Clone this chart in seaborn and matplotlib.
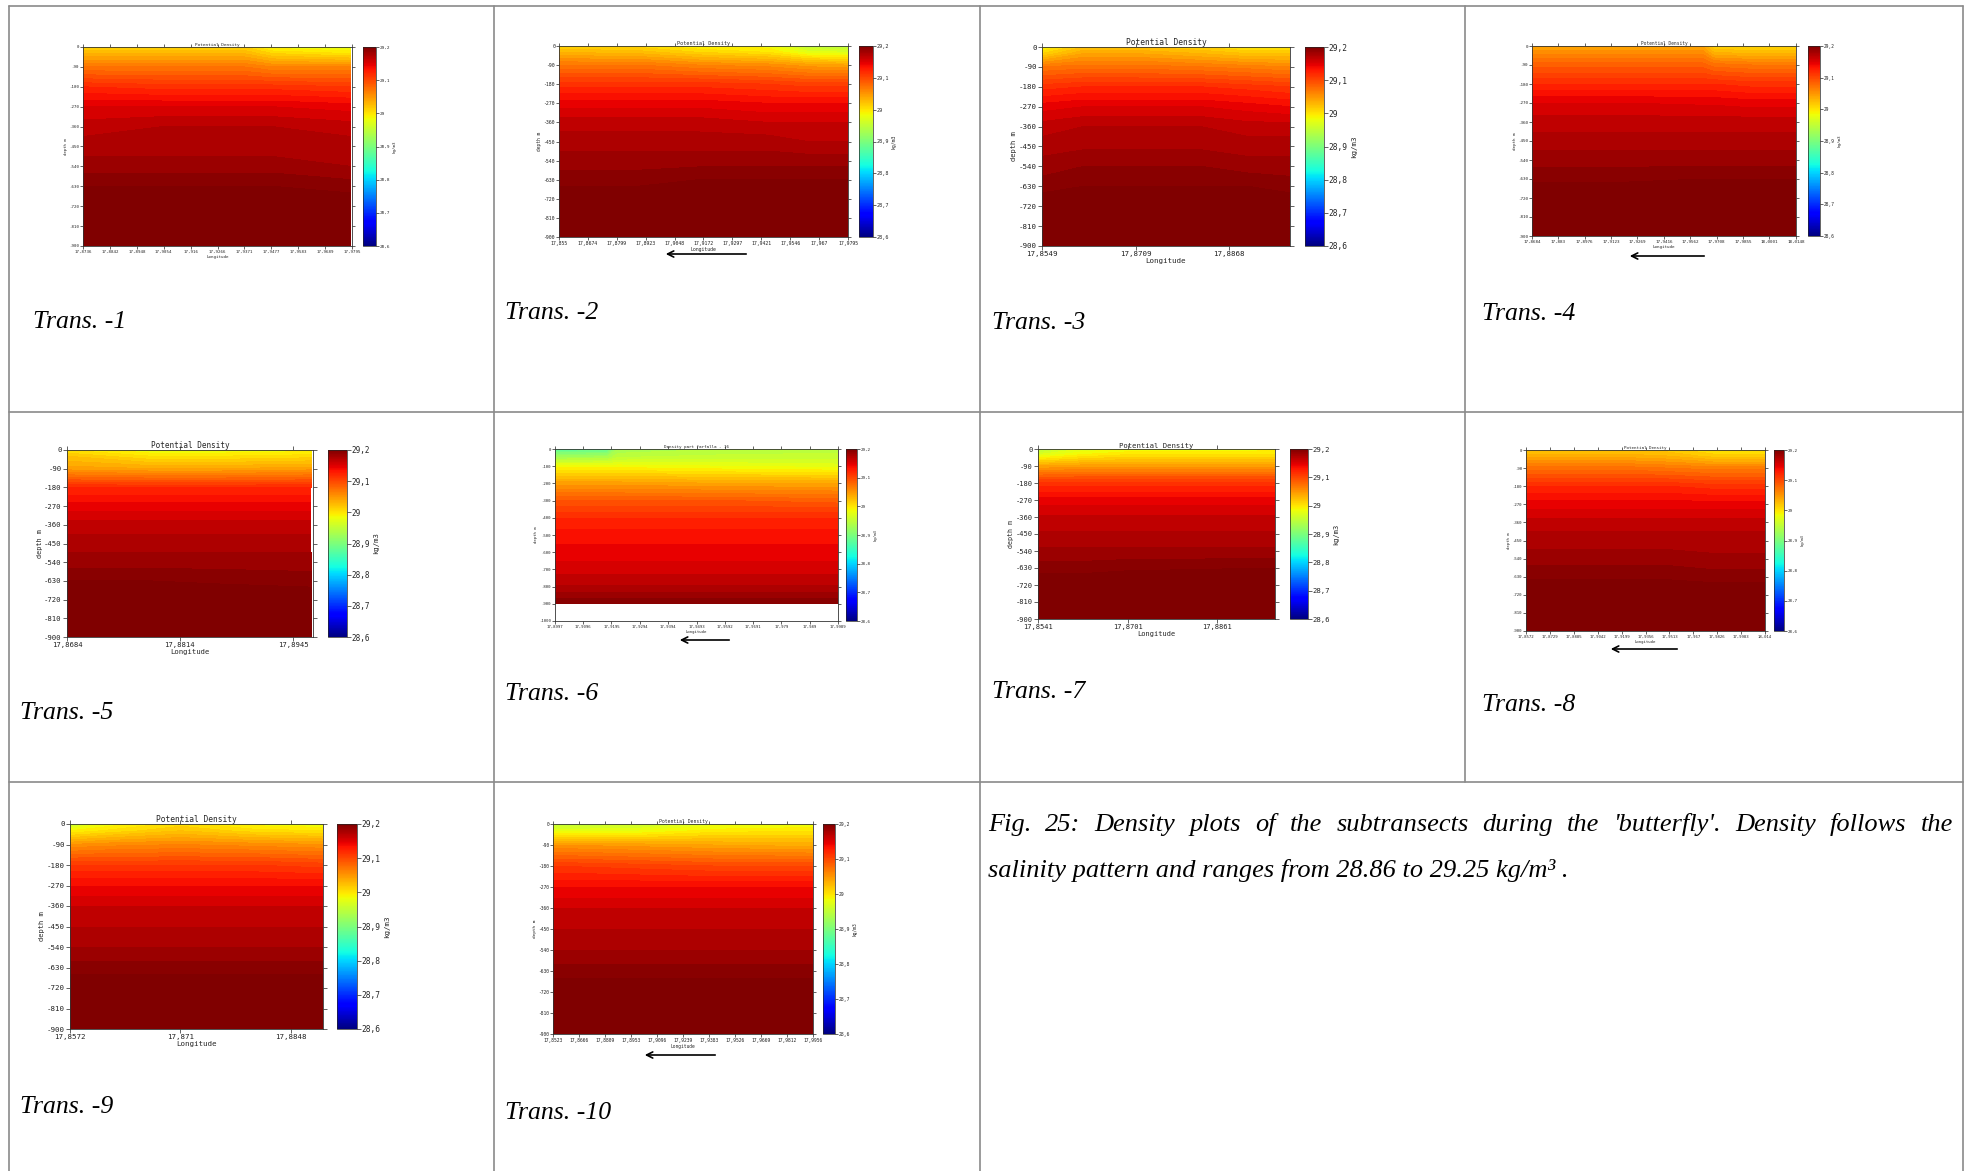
import numpy as np
import matplotlib
matplotlib.use("Agg")
import matplotlib.pyplot as plt
import seaborn as sns
from matplotlib.colors import Normalize
from matplotlib.cm import ScalarMappable
from matplotlib.lines import Line2D
from matplotlib.patches import FancyArrowPatch
from matplotlib.ticker import FixedLocator, FixedFormatter

sns.set_theme(style="ticks")
plt.rcParams["font.family"] = ["DejaVu Sans Mono", "DejaVu Sans"]
plt.rcParams["axes.unicode_minus"] = False
plt.rcParams["axes.facecolor"] = "white"

# ------------------------------------------------------------------ data
CBAR_TICKS = [28.6, 28.7, 28.8, 28.9, 29.0, 29.1, 29.2]
CBAR_LABELS = ["28,6", "28,7", "28,8", "28,9", "29", "29,1", "29,2"]
DEPTH_TICKS_90 = [0, -90, -180, -270, -360, -450, -540, -630, -720, -810, -900]
DEPTH_TICKS_100 = [0, -100, -200, -300, -400, -500, -600, -700, -800, -900, -1000]
DEPTHS_STD = [0, 30, 90, 180, 270, 360, 450, 540, 630, 720, 810, 900]

# Trans. -1
T1_XTICKS = [17.8736, 17.8842, 17.8948, 17.9054, 17.916, 17.9266, 17.9371,
             17.9477, 17.9583, 17.9689, 17.9795]
T1_RANGE = [17.8736, 17.9795]
T1_LON = [17.8736, 17.905, 17.937, 17.948, 17.979]
T1_SIGMA = [
    [29.01, 29.01, 29.01, 28.985, 28.975],
    [29.03, 29.03, 29.03, 29.01, 29.0],
    [29.07, 29.07, 29.07, 29.06, 29.06],
    [29.12, 29.115, 29.115, 29.115, 29.11],
    [29.15, 29.15, 29.15, 29.15, 29.145],
    [29.165, 29.17, 29.17, 29.17, 29.165],
    [29.175, 29.175, 29.175, 29.175, 29.175],
    [29.185, 29.185, 29.185, 29.185, 29.18],
    [29.2, 29.2, 29.2, 29.2, 29.195],
    [29.21, 29.21, 29.21, 29.21, 29.21],
    [29.22, 29.22, 29.22, 29.22, 29.22],
    [29.23, 29.23, 29.23, 29.23, 29.23],
]

# Trans. -2
T2_XTICKS = [17.855, 17.8674, 17.8799, 17.8923, 17.9048, 17.9172, 17.9297,
             17.9421, 17.9546, 17.967, 17.9795]
T2_RANGE = [17.855, 17.9795]
T2_LON = [17.855, 17.89, 17.915, 17.945, 17.962, 17.9795]
T2_SIGMA = [
    [29.01, 29.005, 28.99, 28.985, 28.95, 28.945],
    [29.03, 29.025, 29.01, 29.0, 28.975, 28.97],
    [29.07, 29.07, 29.06, 29.055, 29.045, 29.04],
    [29.115, 29.115, 29.115, 29.11, 29.105, 29.105],
    [29.145, 29.145, 29.145, 29.14, 29.14, 29.14],
    [29.165, 29.165, 29.165, 29.16, 29.16, 29.16],
    [29.175, 29.175, 29.175, 29.175, 29.17, 29.17],
    [29.185, 29.185, 29.185, 29.185, 29.185, 29.185],
    [29.195, 29.195, 29.2, 29.2, 29.2, 29.2],
    [29.21, 29.21, 29.21, 29.21, 29.21, 29.21],
    [29.22, 29.22, 29.22, 29.22, 29.22, 29.22],
    [29.23, 29.23, 29.23, 29.23, 29.23, 29.23],
]

# Trans. -3
T3_XTICKS = [17.8549, 17.8709, 17.8868]
T3_RANGE = [17.8549, 17.8972]
T3_LON = [17.8549, 17.862, 17.8709, 17.882, 17.89, 17.8972]
T3_SIGMA = [
    [28.985, 29.02, 29.02, 29.01, 28.995, 28.995],
    [29.01, 29.04, 29.04, 29.03, 29.02, 29.02],
    [29.07, 29.075, 29.075, 29.07, 29.065, 29.06],
    [29.115, 29.12, 29.12, 29.12, 29.115, 29.11],
    [29.145, 29.15, 29.15, 29.15, 29.145, 29.14],
    [29.165, 29.17, 29.17, 29.17, 29.165, 29.165],
    [29.175, 29.178, 29.178, 29.178, 29.175, 29.175],
    [29.185, 29.19, 29.19, 29.19, 29.185, 29.185],
    [29.195, 29.2, 29.2, 29.2, 29.2, 29.195],
    [29.21, 29.21, 29.21, 29.21, 29.21, 29.21],
    [29.22, 29.22, 29.22, 29.22, 29.22, 29.22],
    [29.23, 29.23, 29.23, 29.23, 29.23, 29.23],
]

# Trans. -4
T4_XTICKS = [17.8684, 17.883, 17.8976, 17.9123, 17.9269, 17.9416, 17.9562,
             17.9708, 17.9855, 18.0001, 18.0148]
T4_RANGE = [17.8684, 18.0148]
T4_LON = [17.8684, 17.92, 17.963, 17.969, 17.99, 18.0148]
T4_SIGMA = [
    [29.04, 29.04, 29.04, 29.01, 29.005, 29.005],
    [29.055, 29.055, 29.055, 29.03, 29.025, 29.025],
    [29.085, 29.085, 29.085, 29.075, 29.07, 29.07],
    [29.12, 29.12, 29.12, 29.12, 29.115, 29.115],
    [29.15, 29.15, 29.148, 29.148, 29.145, 29.145],
    [29.165, 29.165, 29.165, 29.165, 29.165, 29.165],
    [29.175, 29.175, 29.175, 29.175, 29.175, 29.175],
    [29.185, 29.185, 29.185, 29.185, 29.185, 29.185],
    [29.198, 29.198, 29.2, 29.2, 29.2, 29.2],
    [29.21, 29.21, 29.21, 29.21, 29.21, 29.21],
    [29.22, 29.22, 29.22, 29.22, 29.22, 29.22],
    [29.23, 29.23, 29.23, 29.23, 29.23, 29.23],
]

# Trans. -5
T5_XTICKS = [17.8684, 17.8814, 17.8945]
T5_RANGE = [17.8684, 17.8968]
T5_LON = [17.8684, 17.878, 17.886, 17.8966]
T5_SIGMA = [
    [29.0, 28.98, 28.98, 28.985],
    [29.02, 29.0, 29.0, 29.005],
    [29.045, 29.04, 29.04, 29.045],
    [29.12, 29.12, 29.12, 29.12],
    [29.145, 29.145, 29.145, 29.145],
    [29.165, 29.165, 29.165, 29.165],
    [29.175, 29.175, 29.175, 29.175],
    [29.185, 29.185, 29.185, 29.185],
    [29.2, 29.2, 29.198, 29.195],
    [29.21, 29.21, 29.21, 29.21],
    [29.22, 29.22, 29.22, 29.22],
    [29.23, 29.23, 29.23, 29.23],
]

# Trans. -6
T6_XTICKS = [17.8997, 17.9096, 17.9195, 17.9294, 17.9394, 17.9493, 17.9592,
             17.9691, 17.979, 17.989, 17.9989]
T6_RANGE = [17.8997, 17.9989]
T6_DEPTHS = [0, 50, 100, 200, 300, 400, 500, 600, 700, 800, 900]
T6_LON = [17.8997, 17.918, 17.922, 17.96, 17.9989]
T6_SIGMA = [
    [28.875, 28.88, 28.93, 28.94, 28.945],
    [28.93, 28.935, 28.95, 28.955, 28.955],
    [28.985, 28.985, 28.985, 28.98, 28.975],
    [29.045, 29.045, 29.045, 29.04, 29.04],
    [29.09, 29.09, 29.09, 29.09, 29.085],
    [29.12, 29.12, 29.12, 29.12, 29.12],
    [29.135, 29.135, 29.135, 29.135, 29.135],
    [29.145, 29.145, 29.145, 29.145, 29.145],
    [29.155, 29.155, 29.155, 29.155, 29.155],
    [29.172, 29.172, 29.172, 29.172, 29.172],
    [29.2, 29.2, 29.2, 29.2, 29.2],
]

# Trans. -7
T7_XTICKS = [17.8541, 17.8701, 17.8861]
T7_RANGE = [17.8541, 17.8964]
T7_LON = [17.8541, 17.862, 17.8701, 17.8964]
T7_SIGMA = [
    [28.94, 28.97, 28.98, 28.985],
    [28.97, 28.99, 29.0, 29.0],
    [29.04, 29.045, 29.045, 29.045],
    [29.115, 29.115, 29.115, 29.115],
    [29.145, 29.145, 29.145, 29.145],
    [29.162, 29.162, 29.162, 29.162],
    [29.172, 29.172, 29.172, 29.172],
    [29.182, 29.182, 29.182, 29.182],
    [29.195, 29.195, 29.198, 29.2],
    [29.21, 29.21, 29.21, 29.21],
    [29.22, 29.22, 29.22, 29.22],
    [29.23, 29.23, 29.23, 29.23],
]

# Trans. -8
T8_XTICKS = [17.8572, 17.8729, 17.8885, 17.9042, 17.9199, 17.9356, 17.9513,
             17.967, 17.9826, 17.9983, 18.014]
T8_RANGE = [17.8572, 18.014]
T8_LON = [17.8572, 17.92, 17.95, 17.98, 18.014]
T8_SIGMA = [
    [29.02, 29.02, 29.015, 29.0, 29.0],
    [29.035, 29.035, 29.03, 29.015, 29.015],
    [29.075, 29.075, 29.07, 29.065, 29.065],
    [29.12, 29.12, 29.12, 29.115, 29.115],
    [29.145, 29.145, 29.145, 29.145, 29.145],
    [29.165, 29.165, 29.165, 29.165, 29.165],
    [29.175, 29.175, 29.175, 29.175, 29.175],
    [29.185, 29.185, 29.185, 29.182, 29.182],
    [29.198, 29.198, 29.198, 29.195, 29.195],
    [29.21, 29.21, 29.21, 29.21, 29.21],
    [29.22, 29.22, 29.22, 29.22, 29.22],
    [29.23, 29.23, 29.23, 29.23, 29.23],
]

# Trans. -9
T9_XTICKS = [17.8572, 17.871, 17.8848]
T9_RANGE = [17.8572, 17.8888]
T9_LON = [17.8572, 17.861, 17.871, 17.88, 17.8888]
T9_SIGMA = [
    [28.95, 28.98, 29.005, 28.985, 28.98],
    [28.99, 29.0, 29.02, 29.005, 29.0],
    [29.05, 29.055, 29.06, 29.055, 29.05],
    [29.11, 29.11, 29.11, 29.11, 29.105],
    [29.14, 29.14, 29.14, 29.14, 29.14],
    [29.16, 29.16, 29.16, 29.16, 29.16],
    [29.17, 29.17, 29.17, 29.17, 29.17],
    [29.18, 29.18, 29.18, 29.18, 29.18],
    [29.195, 29.195, 29.195, 29.195, 29.195],
    [29.21, 29.21, 29.21, 29.21, 29.21],
    [29.22, 29.22, 29.22, 29.22, 29.22],
    [29.23, 29.23, 29.23, 29.23, 29.23],
]

# Trans. -10
T10_XTICKS = [17.8523, 17.8666, 17.8809, 17.8953, 17.9096, 17.9239, 17.9383,
              17.9526, 17.9669, 17.9812, 17.9956]
T10_RANGE = [17.8523, 17.9956]
T10_LON = [17.8523, 17.9, 17.94, 17.9956]
T10_SIGMA = [
    [28.95, 28.955, 28.975, 28.98],
    [28.975, 28.98, 28.995, 29.0],
    [29.05, 29.045, 29.04, 29.035],
    [29.11, 29.105, 29.1, 29.1],
    [29.14, 29.14, 29.14, 29.14],
    [29.16, 29.16, 29.16, 29.16],
    [29.17, 29.17, 29.17, 29.17],
    [29.18, 29.18, 29.18, 29.18],
    [29.195, 29.195, 29.195, 29.195],
    [29.21, 29.21, 29.21, 29.21],
    [29.22, 29.22, 29.22, 29.22],
    [29.23, 29.23, 29.23, 29.23],
]

PANEL_NAMES = ["Trans. -1", "Trans. -2", "Trans. -3", "Trans. -4", "Trans. -5",
               "Trans. -6", "Trans. -7", "Trans. -8", "Trans. -9", "Trans. -10"]
TITLE_STD = "Potential Density"
TITLE_T6 = "Density part farfalla - 16"
CAPTION_LINE1 = ("Fig. 25: Density plots of the subtransects during the "
                 "'butterfly'. Density follows the")
CAPTION_LINE2 = "salinity pattern and ranges from 28.86 to 29.25 kg/m\u00b3 ."

# ------------------------------------------------------------------ drawing
W, H = 1968, 1171
fig = plt.figure(figsize=(W / 100, H / 100), dpi=100)
fig.patch.set_facecolor("white")

CMAP = matplotlib.colormaps["jet"]
NORM = Normalize(vmin=28.6, vmax=29.2)
LEVELS = np.arange(28.6, 29.2001, 0.01)


def box(l, t, r, b):
    return [l / W, 1 - b / H, (r - l) / W, (b - t) / H]


def fx(x):
    return x / W


def fy(y):
    return 1 - y / H


def comma(v):
    return str(v).replace(".", ",")


def draw_panel(axbox, cbbox, lon, depths, sigma, xticks, xrange_, yticks,
               title, fs, tlen):
    ax = fig.add_axes(box(*axbox))
    cax = fig.add_axes(box(*cbbox))
    z = -np.asarray(depths, dtype=float)
    ax.contourf(np.asarray(lon), z, np.asarray(sigma), levels=LEVELS,
                cmap=CMAP, norm=NORM, extend="both")
    ax.set_xlim(xrange_[0], xrange_[1])
    ax.set_ylim(yticks[-1], 0)
    ax.set_xticks(xticks)
    ax.set_xticklabels([comma(v) for v in xticks])
    ax.set_yticks(yticks)
    ax.set_yticklabels([str(v) for v in yticks])
    ax.tick_params(axis="both", which="both", direction="out", length=tlen,
                   width=0.5, pad=0.8, labelsize=fs, top=True, right=True,
                   colors="#222222")
    for sp in ax.spines.values():
        sp.set_visible(True)
        sp.set_linewidth(0.6)
        sp.set_color("#333333")
    ax.set_title(title, fontsize=fs * 1.05, pad=1.0)
    ax.set_xlabel("Longitude", fontsize=fs, labelpad=0.8)
    ax.set_ylabel("depth m", fontsize=fs * 0.95, labelpad=1.0)

    cb = fig.colorbar(ScalarMappable(norm=NORM, cmap=CMAP), cax=cax,
                      ticks=FixedLocator(CBAR_TICKS),
                      format=FixedFormatter(CBAR_LABELS))
    cb.ax.tick_params(direction="out", length=tlen, width=0.5, pad=0.5,
                      labelsize=fs * 1.05)
    cb.outline.set_linewidth(0.5)
    cb.set_label("kg/m3", fontsize=fs, labelpad=2)
    return ax


def left_arrow(x_right, x_left, y):
    arr = FancyArrowPatch((fx(x_right), fy(y)), (fx(x_left), fy(y)),
                          transform=fig.transFigure, arrowstyle="->",
                          mutation_scale=11, lw=1.2, color="black")
    fig.add_artist(arr)


draw_panel((83, 47, 352, 246), (363, 47, 376, 246), T1_LON, DEPTHS_STD,
           T1_SIGMA, T1_XTICKS, T1_RANGE, DEPTH_TICKS_90, TITLE_STD, 3.0, 2)
draw_panel((559, 46, 848, 237), (859, 46, 873, 237), T2_LON, DEPTHS_STD,
           T2_SIGMA, T2_XTICKS, T2_RANGE, DEPTH_TICKS_90, TITLE_STD, 3.5, 2)
draw_panel((1042, 47, 1290, 246), (1305, 47, 1324, 246), T3_LON, DEPTHS_STD,
           T3_SIGMA, T3_XTICKS, T3_RANGE, DEPTH_TICKS_90, TITLE_STD, 5.4, 3)
draw_panel((1532, 46, 1796, 236), (1808, 46, 1820, 236), T4_LON, DEPTHS_STD,
           T4_SIGMA, T4_XTICKS, T4_RANGE, DEPTH_TICKS_90, TITLE_STD, 3.1, 2)
draw_panel((67, 450, 313, 637), (328, 450, 347, 637), T5_LON, DEPTHS_STD,
           T5_SIGMA, T5_XTICKS, T5_RANGE, DEPTH_TICKS_90, TITLE_STD, 5.2, 3)
draw_panel((555, 449, 838, 621), (846, 449, 857, 621), T6_LON, T6_DEPTHS,
           T6_SIGMA, T6_XTICKS, T6_RANGE, DEPTH_TICKS_100, TITLE_T6, 2.9, 2)
draw_panel((1038, 449, 1275, 619), (1290, 449, 1308, 619), T7_LON, DEPTHS_STD,
           T7_SIGMA, T7_XTICKS, T7_RANGE, DEPTH_TICKS_90, TITLE_STD, 5.0, 3)
draw_panel((1526, 450, 1765, 631), (1774, 450, 1784, 631), T8_LON, DEPTHS_STD,
           T8_SIGMA, T8_XTICKS, T8_RANGE, DEPTH_TICKS_90, TITLE_STD, 2.9, 2)
draw_panel((70, 824, 323, 1029), (337, 824, 357, 1029), T9_LON, DEPTHS_STD,
           T9_SIGMA, T9_XTICKS, T9_RANGE, DEPTH_TICKS_90, TITLE_STD, 5.4, 3)
draw_panel((553, 824, 813, 1034), (823, 824, 835, 1034), T10_LON, DEPTHS_STD,
           T10_SIGMA, T10_XTICKS, T10_RANGE, DEPTH_TICKS_90, TITLE_STD, 3.3, 2)

# direction-of-travel arrows under the longitude axes
left_arrow(749, 663, 254)
left_arrow(1707, 1627, 256)
left_arrow(732, 677, 640)
left_arrow(1680, 1608, 649)
left_arrow(718, 642, 1055)

# table grid
GRID = dict(color="#8a8a8a", lw=1.2, transform=fig.transFigure)
for y in (6, 412, 782):
    fig.add_artist(Line2D([fx(9), fx(1963)], [fy(y), fy(y)], **GRID))
for x in (9, 494, 980, 1963):
    fig.add_artist(Line2D([fx(x), fx(x)], [fy(6), fy(H)], **GRID))
fig.add_artist(Line2D([fx(1465), fx(1465)], [fy(6), fy(782)], **GRID))

# panel captions
SERIF = dict(family="Liberation Serif", style="italic", color="black")
LABEL_POS = [(33, 322), (505, 313), (992, 323), (1482, 314), (20, 713),
             (505, 694), (992, 692), (1482, 705), (20, 1107), (505, 1113)]
for name, (x, y) in zip(PANEL_NAMES, LABEL_POS):
    fig.text(fx(x), fy(y), name, fontsize=18.5, ha="left", va="center", **SERIF)

# figure caption, first line justified across the cell
fig.canvas.draw()
renderer = fig.canvas.get_renderer()
words = CAPTION_LINE1.split()
wtexts = [fig.text(0, fy(831), w, fontsize=19, ha="left", va="baseline", **SERIF)
          for w in words]
widths = [t.get_window_extent(renderer).width for t in wtexts]
x0, x1 = 988, 1953
gap = (x1 - x0 - sum(widths)) / (len(words) - 1)
xpos = x0
for t, w in zip(wtexts, widths):
    t.set_x(fx(xpos))
    xpos += w + gap
fig.text(fx(988), fy(877), CAPTION_LINE2, fontsize=19, ha="left",
         va="baseline", **SERIF)

fig.savefig("out.png", dpi=100, facecolor="white")
